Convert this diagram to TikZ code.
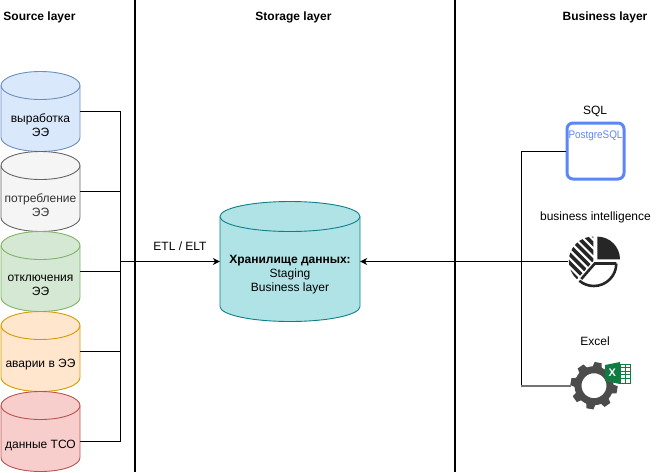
\documentclass[tikz,border=0pt]{standalone}
\usepackage{fontspec}
\setmainfont{Liberation Sans}
\usetikzlibrary{arrows.meta}
\definecolor{srcblue}{HTML}{DAE8FC}
\definecolor{srcblueline}{HTML}{6C8EBF}
\definecolor{srcgrey}{HTML}{F5F5F5}
\definecolor{srcgreyline}{HTML}{666666}
\definecolor{srcgreen}{HTML}{D5E8D4}
\definecolor{srcgreenline}{HTML}{82B366}
\definecolor{srcorange}{HTML}{FFE6CC}
\definecolor{srcorangeline}{HTML}{D79B00}
\definecolor{srcred}{HTML}{F8CECC}
\definecolor{srcredline}{HTML}{B85450}
\definecolor{dwhfill}{HTML}{B0E3E6}
\definecolor{dwhline}{HTML}{0E8088}
\definecolor{pgblue}{HTML}{5B86F7}
\definecolor{xlgreen}{HTML}{107C41}
\tikzset{
  frame/.style={inner sep=0pt},
  caption/.style={font=\fontsize{12}{14}\selectfont, align=center},
  layer/.style={font=\bfseries\fontsize{12}{14}\selectfont},
  link/.style={line width=1pt},
  divider/.style={line width=2pt},
  icon/.style={black!85}
}
% name, centre x, centre y, half width, half height, end radius, fill, line, text
\newcommand{\drum}[9]{
  \node[frame, minimum width=2*#4 pt, minimum height=2*#5 pt] (#1) at (#2, #3) {};
  \filldraw[shift={(#2, #3)}, y=1pt, fill=#7, draw=#8, line width=0.9pt]
    (-#4, #5-#6) arc (180:0:#4 and #6) -- (#4, -#5+#6) arc (0:-180:#4 and #6) -- cycle;
  \draw[shift={(#2, #3)}, y=1pt, draw=#8, line width=0.9pt]
    (-#4, #5-#6) arc (180:360:#4 and #6);
  \node[caption] (#1text) at (#2, #3+13.5) {#9};
}
\begin{document}
\begin{tikzpicture}[x=1pt, y=-1pt, >={Stealth[length=7pt,width=7pt]}]
  \useasboundingbox (0, 0) rectangle (661, 472);

  \node[layer] (srctitle) at (39.5, 17) {Source layer};
  \node[layer] (stotitle) at (293.5, 17) {Storage layer};
  \node[layer] (bustitle) at (605, 17) {Business layer};

  \coordinate (divatop) at (135, 0);
  \coordinate (divabot) at (135, 472);
  \coordinate (divbtop) at (455, 0);
  \coordinate (divbbot) at (455, 472);
  \draw[divider] (divatop) -- (divabot);
  \draw[divider] (divbtop) -- (divbbot);

  % source cylinders
  \drum{gen}{40.5}{111.5}{39.5}{40}{14}{srcblue}{srcblueline}{выработка\\ЭЭ}
  \drum{use}{40.5}{191.5}{39.5}{40}{14}{srcgrey}{srcgreyline}{\color{black!80}потребление\\\color{black!80}ЭЭ}
  \drum{off}{40.5}{271.5}{39.5}{40}{14}{srcgreen}{srcgreenline}{отключения\\ЭЭ}
  \drum{acc}{40.5}{351.5}{39.5}{40}{14}{srcorange}{srcorangeline}{аварии в ЭЭ}
  \drum{tso}{40.5}{431.5}{39.5}{40}{14}{srcred}{srcredline}{данные ТСО}

  \drum{dwh}{290}{261.5}{70}{60}{15}{dwhfill}{dwhline}{\textbf{Хранилище данных:}\\Staging\\Business layer}

  \coordinate (busa) at (120, 111.5);
  \coordinate (busb) at (120, 191.5);
  \coordinate (busc) at (120, 261.5);
  \coordinate (busd) at (120, 351.5);
  \coordinate (buse) at (120, 441);
  \coordinate (tsoout) at (80, 441);
  \draw[link] (gen.east) -- (busa) -- (buse) -- (tsoout);
  \draw[link] (use.east) -- (busb);
  \draw[link] (off.east) -- (off.east -| busa);
  \draw[link] (acc.east) -- (busd);
  \draw[link, ->] (busc) -- (dwh.west |- busc);
  \node[caption] (etl) at (180, 246) {ETL / ELT};

  % business tools
  \node[caption] (sqltext) at (595, 111) {SQL};
  \node[draw=pgblue, line width=3pt, rounded corners=6pt, minimum width=57pt, minimum height=56pt] (sql) at (595.5, 151) {};
  \node[text=pgblue, xscale=0.9, font=\fontsize{11}{13}\selectfont] (pgtext) at (595.5, 136) {PostgreSQL};

  \node[caption] (bitext) at (595.5, 217) {business intelligence};
  \begin{scope}[shift={(593.3, 261)}, y=1pt]
    \fill[icon] (4, 1.7) -- (4, 24.4) arc (90:0:22.7) -- cycle;
    \begin{scope}
      \clip (0, 0) -- (0, 24.5) arc (90:228:24.5) -- cycle;
      \foreach \d in {-24,-18,...,24}
        \draw[icon, line width=3.6pt] (\d*.707-24, \d*.707+24) -- (\d*.707+24, \d*.707-24);
    \end{scope}
    \draw[icon, line width=2.6pt] (23, -2.5) -- (1.5, -2.5) -- (-12, -18);
    \draw[icon, line width=2.6pt] (23, -2.5) arc (0:-130:22.5);
  \end{scope}

  \node[caption] (exceltext) at (595, 341) {Excel};
  \begin{scope}[shift={(594, 385.7)}, y=1pt]
    \foreach \a in {80,125,170,215,260,305,350,35}
      \fill[black!70, rotate=\a] (17, -5) -- (23.5, -3.5) -- (23.5, 3.5) -- (17, 5) -- cycle;
    \draw[black!70, line width=7pt] (0, 0) circle (16);
  \end{scope}

  \fill[xlgreen] (605, 365) -- (620, 362) -- (620, 384) -- (605, 381) -- cycle;
  \draw[xlgreen, fill=white, line width=0.7pt] (620, 364) rectangle (630.5, 383);
  \foreach \y in {367.5,371,374.5,378}
    \draw[xlgreen, line width=0.7pt] (620, \y) -- (630.5, \y);
  \draw[xlgreen, line width=0.7pt] (625, 364) -- (625, 383);
  \node[text=white, font=\bfseries\fontsize{11}{12}\selectfont, inner sep=0pt] (xlmark) at (612.3, 373) {X};

  % connectors on the right
  \coordinate (riser) at (521, 261.5);
  \coordinate (riserend) at (521, 386);
  \coordinate (biout) at (568, 261.5);
  \coordinate (gearin) at (571, 386);
  \draw[link] (sql.west) -- (riser |- sql.west) -- (riserend);
  \draw[link, ->] (biout) -- (dwh.east |- biout);
  \draw[black!55, line width=1.4pt] (riserend) -- (gearin);
\end{tikzpicture}
\end{document}
